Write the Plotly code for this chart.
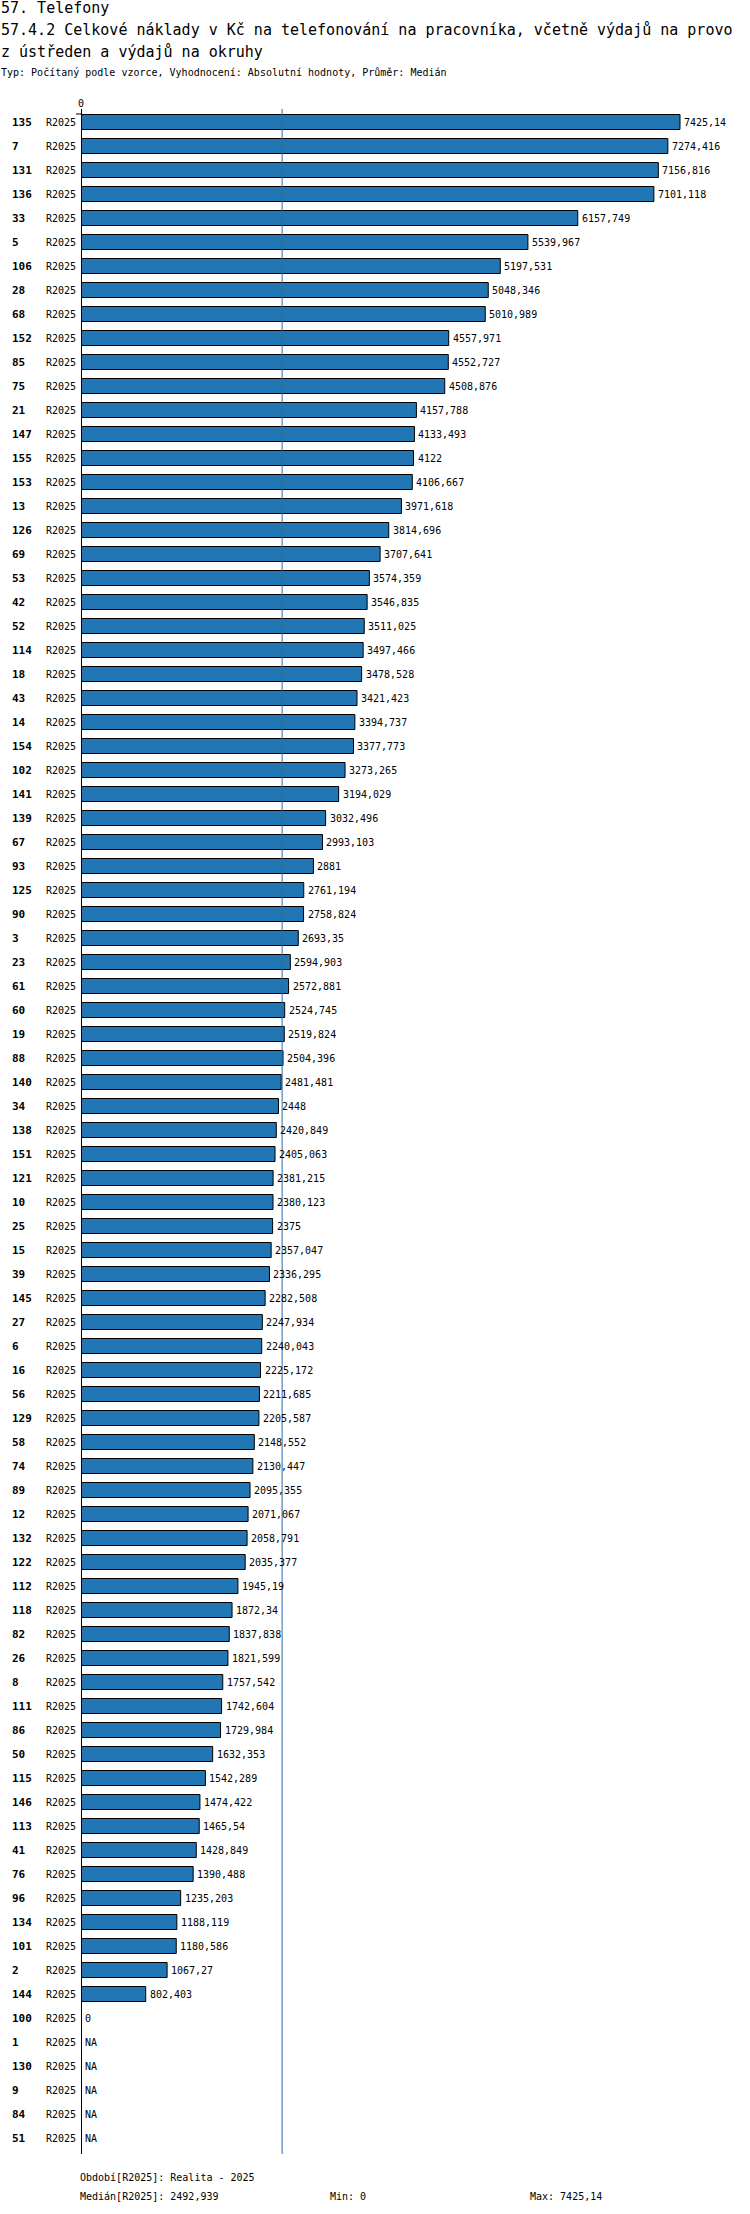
from decimal import Decimal, ROUND_HALF_UP

import numpy as np
import plotly.graph_objects as go

# data
IDS = ["135", "7", "131", "136", "33", "5", "106", "28", "68", "152",
       "85", "75", "21", "147", "155", "153", "13", "126", "69", "53",
       "42", "52", "114", "18", "43", "14", "154", "102", "141", "139",
       "67", "93", "125", "90", "3", "23", "61", "60", "19", "88",
       "140", "34", "138", "151", "121", "10", "25", "15", "39", "145",
       "27", "6", "16", "56", "129", "58", "74", "89", "12", "132",
       "122", "112", "118", "82", "26", "8", "111", "86", "50", "115",
       "146", "113", "41", "76", "96", "134", "101", "2", "144", "100",
       "1", "130", "9", "84", "51"]
VALUES = [7425.14, 7274.416, 7156.816, 7101.118, 6157.749, 5539.967, 5197.531, 5048.346, 5010.989, 4557.971,
          4552.727, 4508.876, 4157.788, 4133.493, 4122, 4106.667, 3971.618, 3814.696, 3707.641, 3574.359,
          3546.835, 3511.025, 3497.466, 3478.528, 3421.423, 3394.737, 3377.773, 3273.265, 3194.029, 3032.496,
          2993.103, 2881, 2761.194, 2758.824, 2693.35, 2594.903, 2572.881, 2524.745, 2519.824, 2504.396,
          2481.481, 2448, 2420.849, 2405.063, 2381.215, 2380.123, 2375, 2357.047, 2336.295, 2282.508,
          2247.934, 2240.043, 2225.172, 2211.685, 2205.587, 2148.552, 2130.447, 2095.355, 2071.067, 2058.791,
          2035.377, 1945.19, 1872.34, 1837.838, 1821.599, 1757.542, 1742.604, 1729.984, 1632.353, 1542.289,
          1474.422, 1465.54, 1428.849, 1390.488, 1235.203, 1188.119, 1180.586, 1067.27, 802.403, 0,
          None, None, None, None, None]
PERIOD = "R2025"

W, H = 750, 2214
L, T, PW, PH = 81, 110, 669, 2040


def px_x(px):
    return (px - L) / PW


def px_y(py):
    return (T + PH - py) / PH


def fmt(v):
    d = Decimal(str(v)).quantize(Decimal("0.001"), rounding=ROUND_HALF_UP)
    s = format(d, "f")
    if "." in s:
        s = s.rstrip("0").rstrip(".")
    return s.replace(".", ",")


valid = [v for v in VALUES if v is not None]
median = float(np.median(valid))
vmin, vmax = min(valid), max(valid)

MONO = "DejaVu Sans Mono"

fig = go.Figure(go.Bar(
    x=VALUES, y=IDS, orientation="h",
    marker=dict(color="#2176b3", line=dict(color="black", width=1)),
    hoverinfo="skip",
))

ann = []
# category axis: numeric y in annotations means the category index
for k, (i, v) in enumerate(zip(IDS, VALUES)):
    ann.append(dict(x=px_x(10), xref="paper", y=k, yref="y", text="<b>%s</b>" % i,
                    xanchor="left", showarrow=False, font=dict(family=MONO, size=11, color="black")))
    ann.append(dict(x=px_x(44), xref="paper", y=k, yref="y", text=PERIOD,
                    xanchor="left", showarrow=False, font=dict(family=MONO, size=10, color="black")))
    ann.append(dict(x=v if v is not None else 0, xref="x", y=k, yref="y",
                    text=fmt(v) if v is not None else "NA", xanchor="left", xshift=2,
                    showarrow=False, font=dict(family=MONO, size=10, color="black")))

# titles
ann += [
    dict(x=px_x(-1), y=px_y(8), text="57. Telefony", font=dict(size=15)),
    dict(x=px_x(-1), y=px_y(30),
         text="57.4.2 Celkové náklady v Kč na telefonování na pracovníka, včetně výdajů na provo",
         font=dict(size=15)),
    dict(x=px_x(-1), y=px_y(52), text="z ústředen a výdajů na okruhy", font=dict(size=15)),
    dict(x=px_x(-1), y=px_y(72),
         text="Typ: Počítaný podle vzorce, Vyhodnocení: Absolutní hodnoty, Průměr: Medián",
         font=dict(size=10)),
    dict(x=px_x(78), y=px_y(2177), text="Období[%s]: Realita - 2025" % PERIOD, font=dict(size=10)),
    dict(x=px_x(78), y=px_y(2196), text="Medián[%s]: %s" % (PERIOD, fmt(median)), font=dict(size=10)),
    dict(x=px_x(328), y=px_y(2196), text="Min: %s" % fmt(vmin), font=dict(size=10)),
    dict(x=px_x(528), y=px_y(2196), text="Max: %s" % fmt(vmax), font=dict(size=10)),
]
for a in ann[-8:]:
    a.update(xref="paper", yref="paper", xanchor="left", yanchor="middle", showarrow=False)
    a["font"].update(family=MONO, color="black")

shapes = [
    # median line
    dict(type="line", xref="x", yref="paper", x0=median, x1=median,
         y0=px_y(2154), y1=px_y(109), line=dict(color="#2f69a3", width=1)),
    # zero axis
    dict(type="line", xref="x", yref="paper", x0=0, x1=0,
         y0=px_y(2154), y1=px_y(109), line=dict(color="black", width=2)),
    dict(type="line", xref="paper", yref="paper", x0=px_x(76), x1=px_x(81),
         y0=px_y(114), y1=px_y(114), line=dict(color="black", width=1)),
]

fig.update_layout(
    width=W, height=H,
    margin=dict(l=L, r=W - L - PW, t=T, b=H - T - PH),
    paper_bgcolor="white", plot_bgcolor="white",
    bargap=0.375, showlegend=False,
    xaxis=dict(range=[0, vmax * 669 / 599], side="top", tickvals=[0], ticktext=["0"],
               showgrid=False, zeroline=False, showline=False, ticks="",
               tickfont=dict(family=MONO, size=10, color="black")),
    yaxis=dict(type="category", categoryorder="array", categoryarray=IDS,
               range=[len(IDS) - 0.5, -0.5], showticklabels=False,
               showgrid=False, zeroline=False, showline=False, ticks=""),
    annotations=ann, shapes=shapes,
)

# drop the default page margin so the figure sits at the window's top-left corner
fig.write_html("out.html", config={"displayModeBar": False},
               post_script="document.body.style.margin='0';")
